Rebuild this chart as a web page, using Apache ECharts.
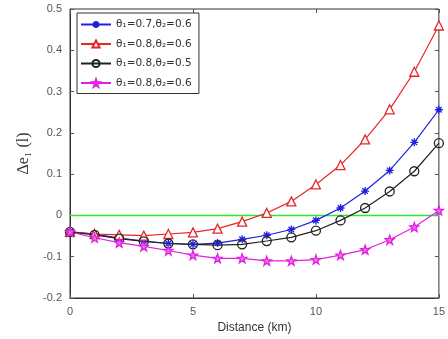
<!DOCTYPE html>
<html>
<head>
<meta charset="utf-8">
<script src="https://cdn.jsdelivr.net/npm/echarts@6/dist/echarts.min.js"></script>
<style>
  html, body { margin: 0; padding: 0; background: #fff; }
  #chart { width: 448px; height: 339px; }
</style>
</head>
<body>
<div id="chart"></div>
<script>
// Distance along the line (km)
const distance = [0, 1, 2, 3, 4, 5, 6, 7, 8, 9, 10, 11, 12, 13, 14, 15];

// Δe1 for each parameter pair
const s07_06 = [-0.040, -0.045, -0.055, -0.062, -0.068, -0.070, -0.067, -0.058, -0.048, -0.034, -0.012, 0.018, 0.059, 0.109, 0.177, 0.256];
const s08_06 = [-0.040, -0.045, -0.047, -0.049, -0.045, -0.041, -0.032, -0.015, 0.006, 0.034, 0.075, 0.122, 0.184, 0.257, 0.348, 0.460];
const s08_05 = [-0.040, -0.047, -0.056, -0.063, -0.068, -0.070, -0.072, -0.070, -0.062, -0.053, -0.037, -0.012, 0.018, 0.058, 0.107, 0.175];
const s08_06b = [-0.040, -0.054, -0.066, -0.075, -0.085, -0.096, -0.104, -0.104, -0.110, -0.110, -0.107, -0.096, -0.083, -0.059, -0.028, 0.012];

const seriesNames = ['θ₁=0.7,θ₂=0.6', 'θ₁=0.8,θ₂=0.6', 'θ₁=0.8,θ₂=0.5', 'θ₁=0.8,θ₂=0.6 '];
const yTicks = [-0.2, -0.1, 0, 0.1, 0.2, 0.3, 0.4, 0.5];
const xTicks = [0, 5, 10, 15];

const asterisk = 'path://M0,-10L0,10M-10,0L10,0M-7,-7L7,7M-7,7L7,-7';
const pentagram = 'path://M0,-10L2.35,-3.24L9.51,-3.09L3.8,1.24L5.88,8.09L0,4L-5.88,8.09L-3.8,1.24L-9.51,-3.09L-2.35,-3.24Z';

const pairs = v => distance.map((d, i) => [d, v[i]]);

function lineSeries(name, data, color, symbol, size, fill) {
  return {
    name: name,
    type: 'line',
    data: pairs(data),
    smooth: false,
    symbol: symbol,
    symbolSize: size,
    showAllSymbol: true,
    lineStyle: { color: color, width: 1.2 },
    itemStyle: { color: fill, borderColor: color, borderWidth: 1.3 },
    emphasis: { disabled: true },
    z: 3
  };
}

const chart = echarts.init(document.getElementById('chart'), null, { renderer: 'canvas' });

const labelStyle = { color: '#555', fontSize: 11, fontFamily: 'Liberation Sans, Arial, sans-serif' };
const tickStyle = { show: true, inside: true, length: 4, lineStyle: { color: '#555' } };

chart.setOption({
  animation: false,
  backgroundColor: '#fff',
  grid: { left: 70, right: 6, top: 9, bottom: 41, show: true, borderColor: '#333', borderWidth: 1 },
  legend: {
    left: 77, top: 13,
    orient: 'vertical',
    itemWidth: 30, itemHeight: 9, itemGap: 8.5,
    padding: [6, 4, 5, 3],
    borderColor: '#333', borderWidth: 1, backgroundColor: '#fff',
    textStyle: { color: '#333', fontSize: 10.5, fontFamily: 'DejaVu Sans, sans-serif' },
    data: seriesNames
  },
  xAxis: [{
    type: 'value', min: 0, max: 15, interval: 5,
    name: 'Distance (km)', nameLocation: 'middle', nameGap: 22,
    nameTextStyle: { color: '#333', fontSize: 12, fontFamily: 'Liberation Sans, Arial, sans-serif' },
    axisLine: { show: true, onZero: false, lineStyle: { color: '#333' } },
    axisTick: tickStyle,
    axisLabel: Object.assign({ margin: 8, formatter: v => xTicks.includes(v) ? String(v) : '' }, labelStyle),
    splitLine: { show: false }
  }, {
    type: 'value', min: 0, max: 15, interval: 5, position: 'top',
    axisLine: { show: false, onZero: false },
    axisTick: tickStyle,
    axisLabel: { show: false }, splitLine: { show: false }
  }],
  yAxis: [{
    type: 'value', min: -0.2, max: 0.5, interval: 0.1,
    name: 'Δe₁ (l)', nameLocation: 'middle', nameGap: 36,
    nameTextStyle: { color: '#333', fontSize: 16, fontFamily: 'Liberation Serif, Times New Roman, serif' },
    axisLine: { show: true, onZero: false, lineStyle: { color: '#333' } },
    axisTick: tickStyle,
    axisLabel: Object.assign({ margin: 8, formatter: v => {
      const r = Math.round(v * 10) / 10;
      return yTicks.includes(r) ? String(r) : '';
    } }, labelStyle),
    splitLine: { show: false }
  }, {
    type: 'value', min: -0.2, max: 0.5, interval: 0.1, position: 'right',
    axisLine: { show: false, onZero: false },
    axisTick: tickStyle,
    axisLabel: { show: false }, splitLine: { show: false }
  }],
  series: [
    lineSeries(seriesNames[0], s07_06, '#1f1fe0', asterisk, 8, '#1f1fe0'),
    lineSeries(seriesNames[1], s08_06, '#e8262a', 'triangle', 9, '#fff'),
    lineSeries(seriesNames[2], s08_05, '#222', 'circle', 9, 'rgba(255,255,255,0)'),
    lineSeries(seriesNames[3], s08_06b, '#e020e0', pentagram, 9, '#f070f0'),
    {
      name: 'zero', type: 'line', data: [[0, 0], [15, 0]],
      symbol: 'none', lineStyle: { color: '#2ee62e', width: 1.6 },
      emphasis: { disabled: true }, z: 2
    }
  ]
});
</script>
</body>
</html>
